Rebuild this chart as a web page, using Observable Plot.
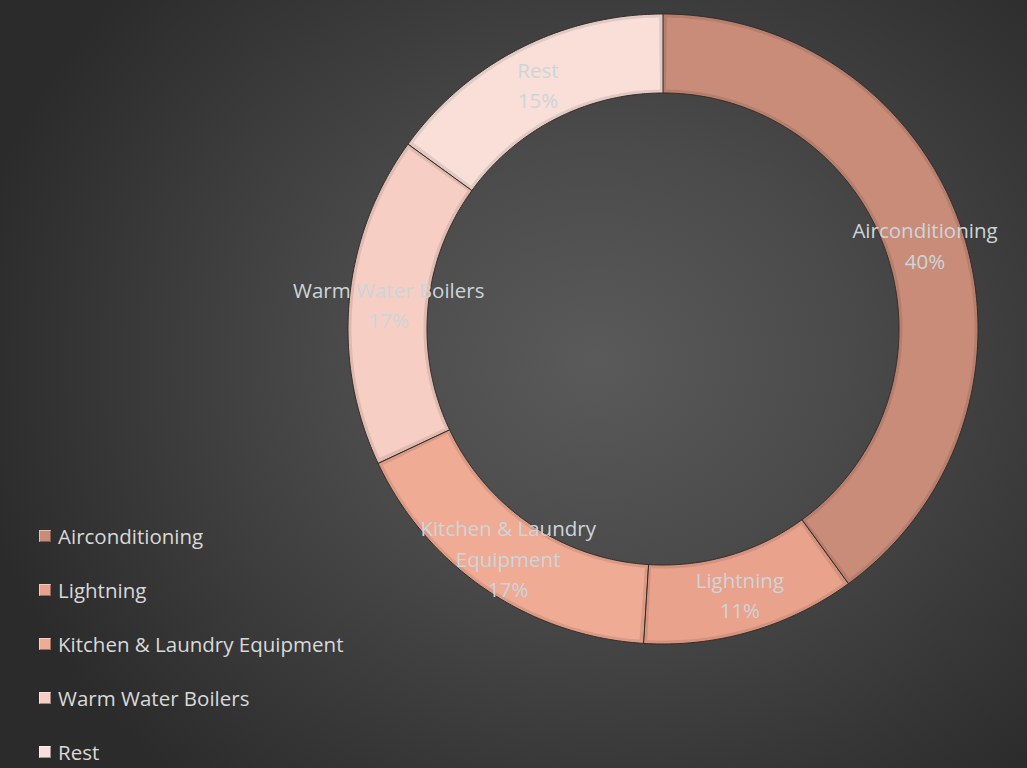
<!DOCTYPE html>
<html>
<head>
<meta charset="utf-8">
<script src="https://cdn.jsdelivr.net/npm/d3@7"></script>
<script src="https://cdn.jsdelivr.net/npm/@observablehq/plot@0.6"></script>
<style>
  html, body { margin: 0; padding: 0; }
  body {
    width: 1027px; height: 768px; overflow: hidden;
    background: radial-gradient(ellipse 62% 72% at 58% 47%, #5a5a5a 0%, #4a4a4a 40%, #2b2b2b 100%);
    font-family: "Open Sans", Lato, sans-serif;
  }
  #wrap { position: relative; width: 1027px; height: 768px; }
  #chart { position: absolute; left: 0; top: 0; }
  #legend { position: absolute; left: 39px; top: 509px; }
  .row { height: 54px; display: flex; align-items: center; color: #d9d9d9; font-size: 20.5px; line-height: 1; }
  .sw { width: 12px; height: 12px; margin-right: 7px; box-sizing: border-box;
        box-shadow: inset 1px 1px 0 rgba(255,255,255,0.45), inset -1px -1px 0 rgba(0,0,0,0.35); }
</style>
</head>
<body>
<div id="wrap">
  <div id="chart"></div>
  <div id="legend"></div>
</div>
<script>
// ---- data ----
const categories = ["Airconditioning", "Lightning", "Kitchen & Laundry Equipment", "Warm Water Boilers", "Rest"];
const shares = [40, 11, 17, 17, 15];
const labelNames = ["Airconditioning", "Lightning", "Kitchen & Laundry\nEquipment", "Warm Water Boilers", "Rest"];
const colors = ["#c98c79", "#e9a28b", "#f0ab94", "#f6cec3", "#f9dfd8"];

// ---- layout ----
const W = 1027, H = 768;
const CX = 662.5, CY = 328.5, R = 315, RIN = 236;
const rin = RIN / R;
const x0 = -CX / R, x1 = (W - CX) / R;
const y1 = CY / R, y0 = -(H - CY) / R;

const table = categories.map((c, i) => ({key: c, share: shares[i], label: labelNames[i], color: colors[i]}));
const arcs = d3.pie().sort(null).value(d => d.share).startAngle(0).endAngle(2 * Math.PI)(table);

function ringPolygon(a0, a1, ro, ri, key, fill) {
  const n = Math.max(8, Math.ceil((a1 - a0) * 120));
  const pts = [];
  for (let k = 0; k <= n; k++) {
    const a = a0 + (a1 - a0) * k / n;
    pts.push({key, fill, x: ro * Math.sin(a), y: ro * Math.cos(a)});
  }
  for (let k = n; k >= 0; k--) {
    const a = a0 + (a1 - a0) * k / n;
    pts.push({key, fill, x: ri * Math.sin(a), y: ri * Math.cos(a)});
  }
  return pts;
}

const rim = [], face = [];
const inset = 3.5 / R;
for (const a of arcs) {
  const c = d3.color(a.data.color);
  rim.push(...ringPolygon(a.startAngle, a.endAngle, 1, rin, a.data.key, c.darker(0.28).formatHex()));
  const ro = 1 - inset, ri = rin + inset;
  const da = inset / 0.88;
  face.push(...ringPolygon(a.startAngle + da, a.endAngle - da, ro, ri, a.data.key, a.data.color));
}

const total = d3.sum(shares);
const labels = arcs.map(a => {
  const mid = (a.startAngle + a.endAngle) / 2;
  const rm = (1 + rin) / 2;
  return {
    x: rm * Math.sin(mid), y: rm * Math.cos(mid),
    text: a.data.label + "\n" + Math.round(a.data.share / total * 100) + "%"
  };
});

const plot = Plot.plot({
  width: W, height: H, margin: 0,
  x: {domain: [x0, x1], axis: null},
  y: {domain: [y0, y1], axis: null},
  color: {type: "identity"},
  style: {background: "transparent", overflow: "visible"},
  marks: [
    Plot.line(rim, {x: "x", y: "y", z: "key", fill: "fill", stroke: "#352b28", strokeWidth: 1, curve: "linear-closed"}),
    Plot.line(face, {x: "x", y: "y", z: "key", fill: "fill", stroke: "none", curve: "linear-closed"}),
    Plot.text(labels, {x: "x", y: "y", text: "text", fill: "#ccd5da", fontSize: 20.5, lineHeight: 1.47, fontFamily: "'Open Sans', Lato, sans-serif", textAnchor: "middle"})
  ]
});
document.getElementById("chart").appendChild(plot);

// legend
const legend = d3.select("#legend");
table.forEach(d => {
  const row = legend.append("div").attr("class", "row");
  row.append("span").attr("class", "sw").style("background", d.color);
  row.append("span").text(d.key);
});
</script>
</body>
</html>
